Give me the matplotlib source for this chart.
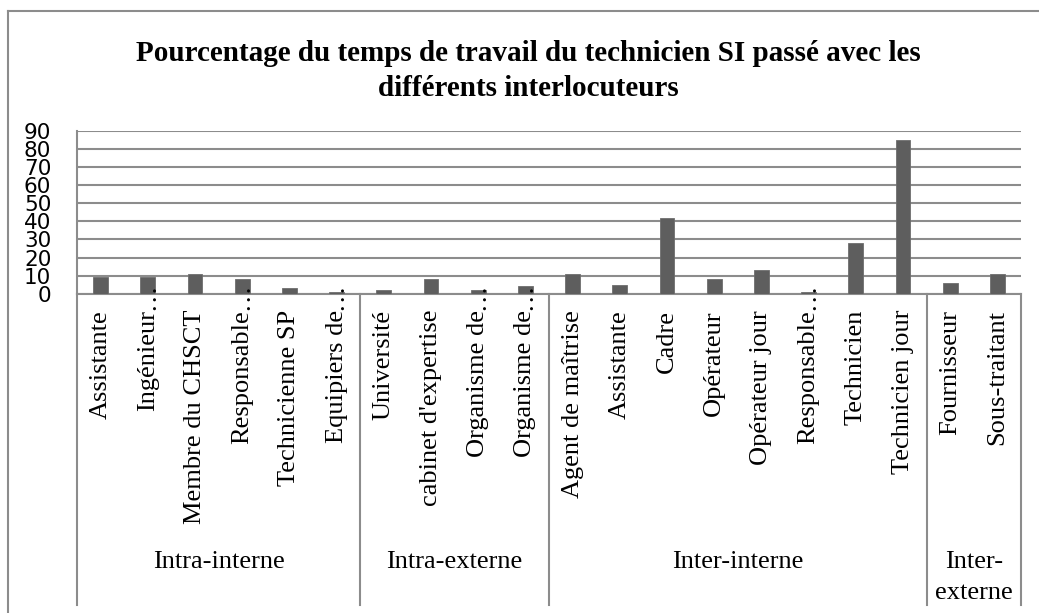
import matplotlib
matplotlib.use('Agg')
import matplotlib.pyplot as plt
import matplotlib.transforms as mtransforms
from matplotlib.lines import Line2D
import numpy as np

# données
labels = ['Assistante', 'Ingénieur…', 'Membre du CHSCT', 'Responsable…', 'Technicienne SP', 'Equipiers de…',
          'Université', "cabinet d'expertise", 'Organisme de…', 'Organisme de…',
          'Agent de maîtrise', 'Assistante', 'Cadre', 'Opérateur', 'Opérateur jour', 'Responsable…',
          'Technicien', 'Technicien jour',
          'Fournisseur', 'Sous-traitant']
values = [9, 9, 11, 8, 3, 1,
          2, 8, 2, 4,
          11, 5, 42, 8, 13, 1, 28, 85,
          6, 11]
groups = ['Intra-interne', 'Intra-externe', 'Inter-interne', 'Inter-\nexterne']
group_sizes = [6, 4, 8, 2]
yticks = [0, 10, 20, 30, 40, 50, 60, 70, 80, 90]

title = ('Pourcentage du temps de travail du technicien SI passé avec les\n'
         'différents interlocuteurs')

W, H = 1039, 613
grey = '#8c8c8c'
serif = ['Liberation Serif', 'DejaVu Serif']

fig = plt.figure(figsize=(W / 100, H / 100), dpi=100)

# zone du graphique (en pixels)
x0, x1 = 77, 1021
y_top, y_zero = 131, 293.7
ax = fig.add_axes([x0 / W, 1 - y_zero / H, (x1 - x0) / W, (y_zero - y_top) / H])

x = np.arange(len(values))
ax.bar(x, values, width=0.31, color='#5e5e5e', edgecolor='#6e6e6e', linewidth=0.6, zorder=3)

ax.set_xlim(-0.5, len(values) - 0.5)
ax.set_ylim(0, 90)
ax.set_yticks(yticks)
ax.set_yticklabels([str(v) for v in yticks], fontsize=15.5, family='DejaVu Sans')
ax.tick_params(axis='y', length=0, pad=18.5)
ax.set_xticks([])
ax.yaxis.grid(True, color=grey, linewidth=1.5, zorder=0)
ax.set_axisbelow(True)
for side in ['top', 'right']:
    ax.spines[side].set_visible(False)
for side in ['left', 'bottom']:
    ax.spines[side].set_color(grey)
    ax.spines[side].set_linewidth(1.5)

# étiquettes verticales des catégories
trans = mtransforms.blended_transform_factory(ax.transData, fig.transFigure)
y_lab = 1 - 310 / H
for i, lab in enumerate(labels):
    base = lab.rstrip('…')
    ax.text(i, y_lab, base, transform=trans, rotation=90, rotation_mode='anchor',
            ha='right', va='center', fontsize=19, family=serif, clip_on=False)
    if lab.endswith('…'):
        ax.text(i, y_lab, '…', transform=trans, rotation=90, rotation_mode='anchor',
                ha='left', va='center', fontsize=19, family=serif, clip_on=False)

# séparateurs et libellés des groupes
bounds = np.concatenate([[0], np.cumsum(group_sizes)]) - 0.5
y_bottom = 1 - 605 / H
for b in bounds:
    ax.add_line(Line2D([b, b], [1 - y_zero / H, y_bottom], transform=trans,
                       color=grey, linewidth=1.5, clip_on=False))
for g, a, b in zip(groups, bounds[:-1], bounds[1:]):
    ax.text((a + b) / 2, 1 - 551 / H, g, transform=trans, ha='center', va='top',
            fontsize=19, family=serif, linespacing=1.55, clip_on=False)

# cadre extérieur
fig.add_artist(Line2D([7.5 / W, 7.5 / W], [0, 1 - 11 / H], transform=fig.transFigure,
                      color=grey, linewidth=1.5))
fig.add_artist(Line2D([7.5 / W, 1], [1 - 11 / H, 1 - 11 / H], transform=fig.transFigure,
                      color=grey, linewidth=1.5))

fig.text(528 / W, 1 - 40 / H, title, ha='center', va='top', fontsize=21,
         fontweight='bold', family=serif, linespacing=1.38)

fig.savefig('out.png', dpi=100)
